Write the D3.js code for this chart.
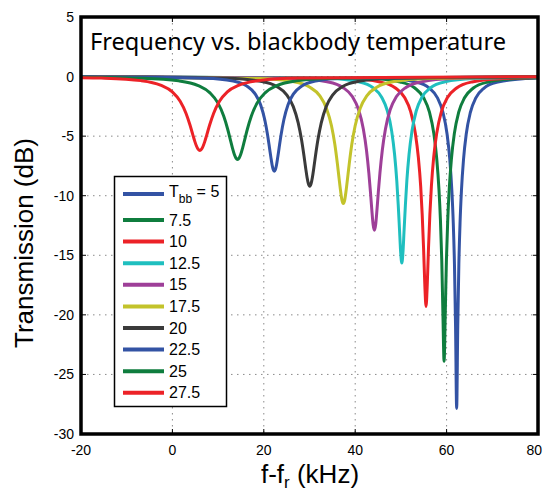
<!DOCTYPE html>
<html>
<head>
<meta charset="utf-8">
<script src="https://cdn.jsdelivr.net/npm/d3@7"></script>
<style>
  body { margin: 0; background: #fff; }
  svg { display: block; }
</style>
</head>
<body>
<div id="chart"></div>
<script>
// blackbody temperatures (legend order) and line colours
var temps = [5, 7.5, 10, 12.5, 15, 17.5, 20, 22.5, 25, 27.5];
var colors = ["#3353a4", "#0f7d3e", "#ec2227", "#1fbfbf", "#9e3f98",
              "#c3c32b", "#3a3a3a", "#3353a4", "#0f7d3e", "#ec2227"];

// f - f_r in kHz, one row per temperature
var freqs = [
  [-20, 47.2, 53.2, 56.2, 58.0, 59.2, 60.1, 60.7, 61.15, 61.45, 61.72, 61.96, 62.2, 62.44, 62.68, 62.95, 63.25, 63.7, 64.3, 65.2, 66.4, 68.2, 71.2, 77.2, 80],
  [-20, 43.45, 49.85, 53.05, 54.97, 56.25, 57.21, 57.85, 58.33, 58.65, 58.94, 59.19, 59.45, 59.71, 59.96, 60.25, 60.57, 61.05, 61.69, 62.65, 63.93, 65.85, 69.05, 75.45, 80],
  [-20, 38.75, 45.45, 48.8, 50.81, 52.15, 53.15, 53.82, 54.33, 54.66, 54.96, 55.23, 55.5, 55.77, 56.04, 56.34, 56.67, 57.17, 57.85, 58.85, 60.19, 62.2, 65.55, 72.25, 80],
  [-20, 34.45, 40.75, 43.9, 45.79, 47.05, 47.99, 48.62, 49.1, 49.41, 49.7, 49.95, 50.2, 50.45, 50.7, 50.99, 51.3, 51.78, 52.41, 53.35, 54.61, 56.5, 59.65, 65.95, 80],
  [-20, 26.95, 33.85, 37.3, 39.37, 40.75, 41.78, 42.47, 42.99, 43.34, 43.65, 43.92, 44.2, 44.48, 44.75, 45.06, 45.41, 45.93, 46.62, 47.65, 49.03, 51.1, 54.55, 61.45, 80],
  [-20, 18.9, 26.3, 30.0, 32.22, 33.7, 34.81, 35.55, 36.1, 36.47, 36.81, 37.1, 37.4, 37.7, 37.99, 38.33, 38.7, 39.25, 39.99, 41.1, 42.58, 44.8, 48.5, 55.9, 80],
  [-20, 12.05, 19.25, 22.85, 25.01, 26.45, 27.53, 28.25, 28.79, 29.15, 29.47, 29.76, 30.05, 30.34, 30.63, 30.95, 31.31, 31.85, 32.57, 33.65, 35.09, 37.25, 40.85, 48.05, 80],
  [-20, 7.3, 13.3, 16.3, 18.1, 19.3, 20.2, 20.8, 21.25, 21.55, 21.82, 22.06, 22.3, 22.54, 22.78, 23.05, 23.35, 23.8, 24.4, 25.3, 26.5, 28.3, 31.3, 37.3, 80],
  [-20, -7.25, 1.35, 5.65, 8.23, 9.95, 11.24, 12.1, 12.74, 13.17, 13.56, 13.91, 14.25, 14.59, 14.94, 15.33, 15.76, 16.4, 17.26, 18.55, 20.27, 22.85, 27.15, 35.75, 80],
  [-20, -15.5, -6.9, -2.6, -0.02, 1.7, 2.99, 3.85, 4.49, 4.92, 5.31, 5.66, 6.0, 6.34, 6.69, 7.08, 7.51, 8.15, 9.01, 10.3, 12.02, 14.6, 18.9, 27.5, 80]
];

// transmission in dB, same rows as freqs
var trans = [
  [-0.01, -0.17, -0.46, -0.97, -1.79, -3.00, -4.82, -6.96, -9.56, -12.19, -15.76, -20.98, -27.85, -20.98, -15.76, -12.19, -9.56, -6.96, -4.82, -3.00, -1.79, -0.97, -0.46, -0.17, -0.12],
  [-0.01, -0.17, -0.46, -0.96, -1.78, -2.99, -4.79, -6.92, -9.48, -12.03, -15.39, -19.83, -23.9, -19.83, -15.39, -12.03, -9.48, -6.92, -4.79, -2.99, -1.78, -0.96, -0.46, -0.17, -0.10],
  [-0.01, -0.17, -0.45, -0.96, -1.76, -2.96, -4.73, -6.79, -9.22, -11.56, -14.39, -17.44, -19.3, -17.44, -14.39, -11.56, -9.22, -6.79, -4.73, -2.96, -1.76, -0.96, -0.45, -0.17, -0.08],
  [-0.01, -0.17, -0.44, -0.94, -1.73, -2.89, -4.60, -6.54, -8.75, -10.74, -12.88, -14.76, -15.65, -14.76, -12.88, -10.74, -8.75, -6.54, -4.60, -2.89, -1.73, -0.94, -0.44, -0.17, -0.05],
  [-0.01, -0.16, -0.43, -0.91, -1.68, -2.79, -4.40, -6.18, -8.10, -9.70, -11.25, -12.42, -12.9, -12.42, -11.25, -9.70, -8.10, -6.18, -4.40, -2.79, -1.68, -0.91, -0.43, -0.16, -0.04],
  [-0.02, -0.16, -0.42, -0.88, -1.60, -2.65, -4.13, -5.70, -7.31, -8.54, -9.63, -10.37, -10.65, -10.37, -9.63, -8.54, -7.31, -5.70, -4.13, -2.65, -1.60, -0.88, -0.42, -0.16, -0.03],
  [-0.02, -0.15, -0.40, -0.84, -1.53, -2.52, -3.88, -5.29, -6.65, -7.65, -8.47, -9.00, -9.2, -9.00, -8.47, -7.65, -6.65, -5.29, -3.88, -2.52, -1.53, -0.84, -0.40, -0.15, -0.02],
  [-0.02, -0.14, -0.38, -0.80, -1.45, -2.36, -3.60, -4.84, -5.99, -6.78, -7.42, -7.81, -7.95, -7.81, -7.42, -6.78, -5.99, -4.84, -3.60, -2.36, -1.45, -0.80, -0.38, -0.14, -0.01],
  [-0.05, -0.14, -0.36, -0.76, -1.37, -2.21, -3.33, -4.42, -5.39, -6.04, -6.54, -6.84, -6.95, -6.84, -6.54, -6.04, -5.39, -4.42, -3.33, -2.21, -1.37, -0.76, -0.36, -0.14, -0.02],
  [-0.09, -0.13, -0.34, -0.72, -1.29, -2.08, -3.10, -4.07, -4.91, -5.46, -5.87, -6.11, -6.2, -6.11, -5.87, -5.46, -4.91, -4.07, -3.10, -2.08, -1.29, -0.72, -0.34, -0.13, -0.01]
];

var xTicks = [-20, 0, 20, 40, 60, 80];
var yTicks = [5, 0, -5, -10, -15, -20, -25, -30];

var width = 543, height = 494;
var plot = {left: 81, right: 538, top: 17, bottom: 434};

var svg = d3.select("#chart")
    .append("svg")
    .attr("width", width)
    .attr("height", height);

var x = d3.scaleLinear().domain([-20, 80]).range([plot.left, plot.right]);
var y = d3.scaleLinear().domain([-30, 5]).range([plot.bottom, plot.top]);

svg.append("rect")
    .attr("width", width).attr("height", height).attr("fill", "#fff");

// dotted grid
var grid = svg.append("g")
    .attr("stroke", "#8a8a8a")
    .attr("stroke-width", 1)
    .attr("stroke-dasharray", "1.5,4.5");

grid.selectAll(".gx")
    .data(xTicks.slice(1, -1))
    .enter().append("line")
    .attr("x1", d => x(d)).attr("x2", d => x(d))
    .attr("y1", plot.top).attr("y2", plot.bottom);

grid.selectAll(".gy")
    .data(yTicks.slice(1, -1))
    .enter().append("line")
    .attr("y1", d => y(d)).attr("y2", d => y(d))
    .attr("x1", plot.left).attr("x2", plot.right);

// inward ticks on all sides
var tickLen = 5;
var ticks = svg.append("g").attr("stroke", "#000").attr("stroke-width", 1);
xTicks.forEach(function (t) {
    ticks.append("line").attr("x1", x(t)).attr("x2", x(t))
        .attr("y1", plot.bottom).attr("y2", plot.bottom - tickLen);
    ticks.append("line").attr("x1", x(t)).attr("x2", x(t))
        .attr("y1", plot.top).attr("y2", plot.top + tickLen);
});
yTicks.forEach(function (t) {
    ticks.append("line").attr("y1", y(t)).attr("y2", y(t))
        .attr("x1", plot.left).attr("x2", plot.left + tickLen);
    ticks.append("line").attr("y1", y(t)).attr("y2", y(t))
        .attr("x1", plot.right).attr("x2", plot.right - tickLen);
});

// curves
svg.append("clipPath").attr("id", "clip")
    .append("rect")
    .attr("x", plot.left).attr("y", plot.top)
    .attr("width", plot.right - plot.left).attr("height", plot.bottom - plot.top);

var line = d3.line()
    .x(d => x(d[0]))
    .y(d => y(d[1]))
    .curve(d3.curveMonotoneX);

var series = temps.map(function (t, i) {
    return freqs[i].map(function (f, j) { return [f, trans[i][j]]; });
});

svg.append("g")
    .attr("clip-path", "url(#clip)")
    .selectAll("path")
    .data(series)
    .enter().append("path")
    .attr("d", line)
    .attr("fill", "none")
    .attr("stroke", (d, i) => colors[i])
    .attr("stroke-width", 3)
    .attr("stroke-linejoin", "round");

// frame
svg.append("rect")
    .attr("x", plot.left).attr("y", plot.top)
    .attr("width", plot.right - plot.left).attr("height", plot.bottom - plot.top)
    .attr("fill", "none")
    .attr("stroke", "#000")
    .attr("stroke-width", 3.5);

// tick labels
var tickFont = "'Liberation Sans', Arial, sans-serif";
svg.append("g").selectAll("text")
    .data(xTicks)
    .enter().append("text")
    .attr("x", d => d === 80 ? 542 : x(d))
    .attr("y", 455)
    .attr("text-anchor", d => d === 80 ? "end" : "middle")
    .style("font-family", tickFont)
    .style("font-size", "14px")
    .text(d => d);

svg.append("g").selectAll("text")
    .data(yTicks)
    .enter().append("text")
    .attr("x", 74)
    .attr("y", d => y(d))
    .attr("dy", "0.36em")
    .attr("text-anchor", "end")
    .style("font-family", tickFont)
    .style("font-size", "14px")
    .text(d => d);

// axis titles
var xl = svg.append("text")
    .attr("x", 310)
    .attr("y", 483)
    .attr("text-anchor", "middle")
    .style("font-family", tickFont)
    .style("font-size", "26px");
xl.append("tspan").text("f-f");
xl.append("tspan").attr("dy", 5).style("font-size", "17px").text("r");
xl.append("tspan").attr("dy", -5).text(" (kHz)");

svg.append("text")
    .attr("transform", "translate(33,243) rotate(-90)")
    .attr("text-anchor", "middle")
    .style("font-family", tickFont)
    .style("font-size", "26px")
    .text("Transmission (dB)");

// plot title inside the axes
svg.append("text")
    .attr("x", 298)
    .attr("y", 50)
    .attr("text-anchor", "middle")
    .attr("textLength", 416)
    .attr("lengthAdjust", "spacingAndGlyphs")
    .style("font-family", "'Noto Sans', sans-serif")
    .style("font-size", "24px")
    .text("Frequency vs. blackbody temperature");

// legend
var legend = svg.append("g");
legend.append("rect")
    .attr("x", 114.5).attr("y", 176.5)
    .attr("width", 112).attr("height", 230)
    .attr("fill", "#fff")
    .attr("stroke", "#000")
    .attr("stroke-width", 1.5);

var rowY = function (i) { return i === 0 ? 194 : 220 + (i - 1) * 21.6; };

temps.forEach(function (t, i) {
    legend.append("line")
        .attr("x1", 123).attr("x2", 164)
        .attr("y1", rowY(i)).attr("y2", rowY(i))
        .attr("stroke", colors[i])
        .attr("stroke-width", 4);
    var lab = legend.append("text")
        .attr("x", 169)
        .attr("y", rowY(i) + (i === 0 ? 3 : 5.5))
        .style("font-family", tickFont)
        .style("font-size", "16px");
    if (i === 0) {
        lab.append("tspan").text("T");
        lab.append("tspan").attr("dy", 6).style("font-size", "12px").text("bb");
        lab.append("tspan").attr("dy", -6).text(" = " + t);
    } else {
        lab.text(t);
    }
});
</script>
</body>
</html>
